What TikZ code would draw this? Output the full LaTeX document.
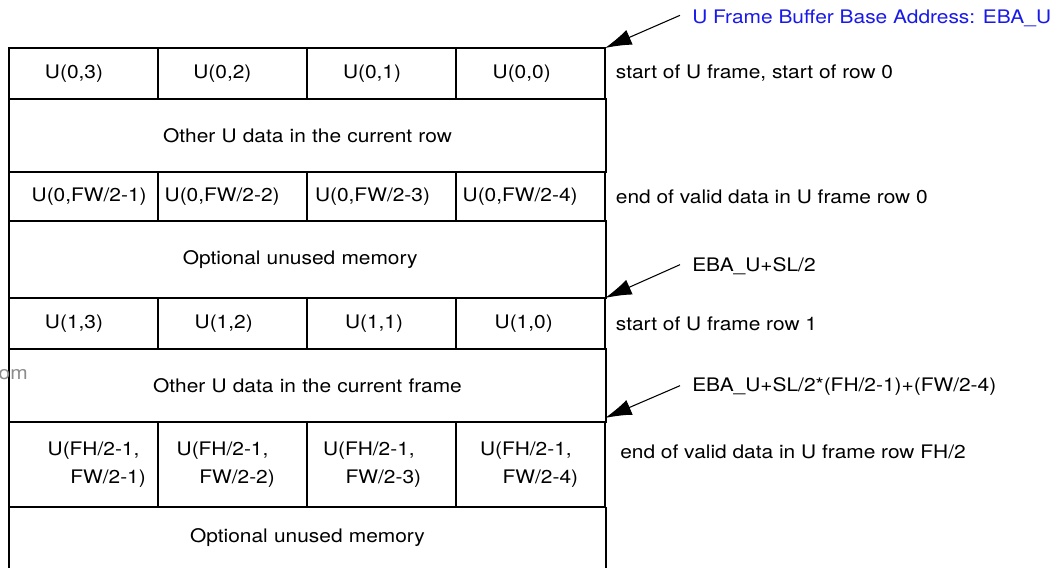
\documentclass[tikz,border=0pt]{standalone}
\usepackage{fontspec}
\setmainfont{TeX Gyre Heros}[FakeStretch=1.12]
\usetikzlibrary{arrows.meta,positioning}
\definecolor{addrblue}{RGB}{25,25,235}

\tikzset{
  cell/.style={draw,line width=1pt,inner sep=0pt,outer sep=0pt,anchor=north west,
    minimum width=111.75pt,text width=111.75pt,align=left,font=\fontsize{14}{21}\selectfont},
  wide/.style={cell,minimum width=447.75pt,text width=447.75pt,align=center},
  note/.style={anchor=west,inner sep=0pt,font=\fontsize{14}{16}\selectfont},
  addr/.style={note},
  ptr/.style={-{Latex[length=20pt,width=12pt]},line width=0.8pt}
}

\begin{document}
\begin{tikzpicture}[x=0.75pt,y=-0.75pt,line join=miter]
    \useasboundingbox (0,0) rectangle (1058,568);

    % row 0
    \foreach \c/\p [count=\i from 0] in {3/27,2/26.5,1/27,0/27.5}
        \node[cell,minimum height=51*0.75pt] (a\i) at (9+149*\i,48) {\hspace*{\p pt}U(0,\c)};
    \node[wide,minimum height=73*0.75pt] (oa) at (9,99) {Other U data in the current row};
    \foreach \c/\p [count=\i from 0] in {1/17,2/5,3/6,4/5}
        \node[cell,minimum height=49*0.75pt] (e\i) at (9+149*\i,172) {\hspace*{\p pt}U(0,FW/2-\c)};
    \node[wide,minimum height=77*0.75pt] (ua) at (9,221) {\hspace*{-11pt}Optional unused memory};

    % row 1
    \foreach \c/\p [count=\i from 0] in {3/27,2/27.5,1/28.5,0/29}
        \node[cell,minimum height=51*0.75pt] (b\i) at (9+149*\i,298) {\hspace*{\p pt}U(1,\c)};
    \node[wide,minimum height=73*0.75pt] (ob) at (9,349) {Other U data in the current frame};

    % last row
    \foreach \c/\p [count=\i from 0] in {1/29,2/14,3/12,4/18}
        \node[cell,minimum height=85*0.75pt] (f\i) at (9+149*\i,422)
            {\hspace*{\p pt}U(FH/2-1,\\\hspace*{\p pt}\hspace*{17pt}FW/2-\c)};
    \node[wide,draw=none,minimum height=61*0.75pt] (ub) at (9,507) {Optional unused memory};
    \draw[line width=1pt] (ub.north west) -- (ub.south west);
    \draw[line width=1pt] (ub.north east) -- (ub.south east);

    % notes on the right
    \node[note,right=8pt of a3] (na) {start of U frame, start of row 0};
    \node[note,right=8pt of e3] (ne) {end of valid data in U frame row 0};
    \node[note,right=8pt of b3] (nb) {start of U frame row 1};
    \node[note] (nf) at (620,452) {end of valid data in U frame row FH/2};

    % addresses
    \node[addr,text=addrblue] (base) at (692,18) {U Frame Buffer Base Address: EBA\_U};
    \node[addr] (sl) at (692,266) {EBA\_U+SL/2};
    \node[addr] (sl2) at (692,387) {EBA\_U+SL/2*(FH/2-1)+(FW/2-4)};
    \draw[ptr] ([xshift=-9pt,yshift=2pt]base.west) -- (a3.north east);
    \draw[ptr] ([xshift=-9pt,yshift=1pt]sl.west) -- (b3.north east);
    \draw[ptr] ([xshift=-9pt,yshift=1pt]sl2.west) -- ([yshift=3pt]f3.north east);

    \node[anchor=east,inner sep=0pt,text=black!45,font=\fontsize{14}{16}\selectfont] (wm) at (28,375) {om};
\end{tikzpicture}
\end{document}
